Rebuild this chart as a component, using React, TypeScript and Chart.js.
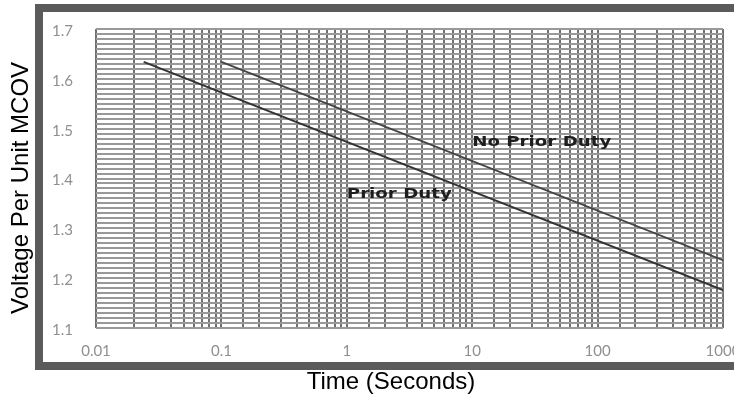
import React, { useEffect, useRef } from "react";
import { Chart, registerables } from "chart.js";

Chart.register(...registerables);

// Data
const priorDutyTime = [0.024, 1000];
const priorDutyVoltage = [1.634, 1.176];
const noPriorDutyTime = [0.1, 1000];
const noPriorDutyVoltage = [1.634, 1.236];

const xMin = 0.01;
const xMax = 1000;
const yMin = 1.1;
const yMax = 1.7;
const yGridStep = 0.01;

const xTitle = "Time (Seconds)";
const yTitle = "Voltage Per Unit MCOV";
const labelTexts = ["Prior Duty", "No Prior Duty"];
const labelX = [1, 10];
const labelY = [1.368, 1.472];

function pts(xs: number[], ys: number[]) {
  return xs.map((x, i) => ({ x, y: ys[i] }));
}

const decorPlugin = {
  id: "decor",
  beforeDraw(chart: any) {
    const ctx = chart.ctx;
    ctx.save();
    ctx.fillStyle = "#ffffff";
    ctx.fillRect(0, 0, chart.width, chart.height);
    ctx.restore();
  },
  afterDraw(chart: any) {
    const ctx = chart.ctx;
    const xs = chart.scales.x;
    const ys = chart.scales.y;
    ctx.save();
    // frame
    ctx.fillStyle = "#5b5b5b";
    ctx.fillRect(35, 4, chart.width - 35, 8);
    ctx.fillRect(35, 4, 8, 366);
    ctx.fillRect(35, 362, chart.width - 35, 8);
    // axis titles
    ctx.fillStyle = "#000000";
    ctx.font = '24px "Liberation Sans", Arial, sans-serif';
    ctx.textAlign = "center";
    ctx.textBaseline = "middle";
    ctx.fillText(xTitle, 391, 382);
    ctx.save();
    ctx.translate(21, 188);
    ctx.rotate(-Math.PI / 2);
    ctx.fillText(yTitle, 0, 0);
    ctx.restore();
    // curve labels
    ctx.fillStyle = "#1e1e1e";
    ctx.font = 'bold 14px "DejaVu Sans", sans-serif';
    ctx.textAlign = "left";
    labelTexts.forEach((t, i) => {
      const px = xs.getPixelForValue(labelX[i]);
      const py = ys.getPixelForValue(labelY[i]);
      ctx.save();
      ctx.translate(px, py);
      ctx.scale(1.3, 1);
      ctx.fillText(t, 0, 0);
      ctx.restore();
    });
    ctx.restore();
  },
};

export default function App() {
  const ref = useRef<HTMLCanvasElement>(null);
  useEffect(() => {
    if (!ref.current) return;
    const chart = new Chart(ref.current, {
      type: "line",
      data: {
        datasets: [
          {
            label: "Prior Duty",
            data: pts(priorDutyTime, priorDutyVoltage),
            borderColor: "#333333",
            borderWidth: 2,
            pointRadius: 0,
            fill: false,
          },
          {
            label: "No Prior Duty",
            data: pts(noPriorDutyTime, noPriorDutyVoltage),
            borderColor: "#444444",
            borderWidth: 1.8,
            pointRadius: 0,
            fill: false,
          },
        ],
      },
      options: {
        animation: false,
        responsive: false,
        devicePixelRatio: 1,
        layout: { padding: { left: 0, top: 29, right: 11, bottom: 0 } },
        plugins: { legend: { display: false }, tooltip: { enabled: false } },
        scales: {
          x: {
            type: "logarithmic",
            min: xMin,
            max: xMax,
            grid: { color: "#707070", lineWidth: 2, drawTicks: false },
            border: { display: false },
            ticks: {
              autoSkip: false,
              maxRotation: 0,
              padding: 14,
              color: "#8f8f8f",
              font: { family: "Lato", size: 15 },
              callback: (v: any) => {
                const n = Number(v);
                const l = Math.log10(n);
                if (Math.abs(l - Math.round(l)) > 1e-9) return "";
                return n >= 1 ? String(Math.round(n)) : String(Number(n.toPrecision(3)));
              },
            },
            afterFit: (s: any) => {
              s.height = 67;
              s.paddingLeft = 0;
              s.paddingRight = 0;
            },
          },
          y: {
            type: "linear",
            min: yMin,
            max: yMax,
            grid: { color: "#999999", lineWidth: 2, drawTicks: false },
            border: { display: false },
            ticks: {
              stepSize: yGridStep,
              autoSkip: false,
              padding: 23,
              labelOffset: 2,
              color: "#8f8f8f",
              font: { family: "Lato", size: 15 },
              callback: (v: any) => {
                const n = Number(v);
                if (Math.abs(n * 10 - Math.round(n * 10)) > 1e-6) return "";
                return n.toFixed(1);
              },
            },
            afterFit: (s: any) => {
              s.width = 96;
              s.paddingTop = 0;
              s.paddingBottom = 0;
            },
          },
        },
      },
      plugins: [decorPlugin],
    });
    return () => chart.destroy();
  }, []);
  return (
    <div style={{ position: "absolute", left: 0, top: 0, width: 734, height: 395 }}>
      <canvas ref={ref} width={734} height={395} />
    </div>
  );
}
